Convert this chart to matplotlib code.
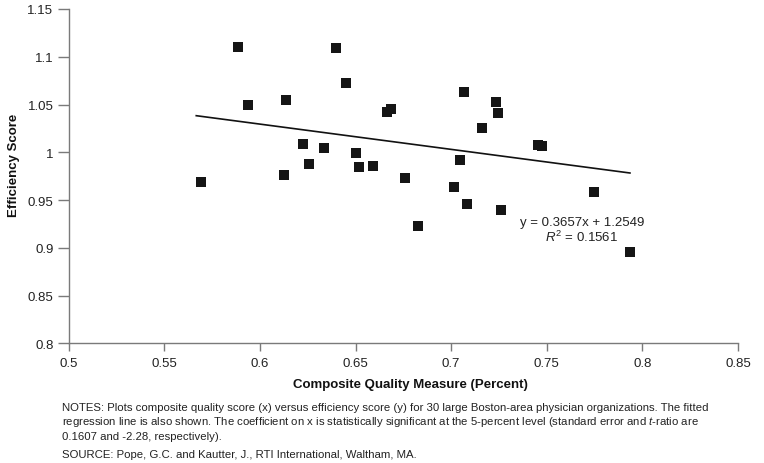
import matplotlib
matplotlib.use("Agg")
import matplotlib.pyplot as plt
import numpy as np

plt.rcParams['font.family'] = ['Liberation Sans', 'DejaVu Sans']
plt.rcParams['mathtext.fontset'] = 'custom'
plt.rcParams['mathtext.rm'] = 'Liberation Sans'
plt.rcParams['mathtext.it'] = 'Liberation Sans:italic'
plt.rcParams['mathtext.bf'] = 'Liberation Sans:bold'

# Data
quality = [0.5690, 0.5885, 0.5936, 0.6138, 0.6124, 0.6227, 0.6257, 0.6337,
           0.6396, 0.6450, 0.6504, 0.6517, 0.6593, 0.6666, 0.6686, 0.6757,
           0.6828, 0.7017, 0.7045, 0.7069, 0.7081, 0.7161, 0.7233, 0.7247,
           0.7259, 0.7456, 0.7474, 0.7749, 0.7935]
efficiency = [0.9692, 1.1099, 1.0498, 1.0550, 0.9765, 1.0086, 0.9880, 1.0041,
              1.1095, 1.0725, 0.9995, 0.9842, 0.9853, 1.0425, 1.0453, 0.9734,
              0.9225, 0.9633, 0.9922, 1.0634, 0.9461, 1.0251, 1.0529, 1.0414,
              0.9398, 1.0076, 1.0062, 0.9587, 0.8959]
fit_x = [0.5667, 0.7935]
fit_y = [1.0383, 0.9783]

x_ticks = [0.5, 0.55, 0.6, 0.65, 0.7, 0.75, 0.8, 0.85]
x_tick_labels = ['0.5', '0.55', '0.6', '0.65', '0.7', '0.75', '0.8', '0.85']
y_ticks = [0.8, 0.85, 0.9, 0.95, 1.0, 1.05, 1.1, 1.15]
y_tick_labels = ['0.8', '0.85', '0.9', '0.95', '1', '1.05', '1.1', '1.15']

fig = plt.figure(figsize=(7.64, 4.64), dpi=100)
ax = fig.add_axes([68.7/764, 1-344.3/464, (738-68.7)/764, (344.3-10)/464])

ax.plot(fit_x, fit_y, color='#111111', lw=1.2, zorder=2)
ax.scatter(quality, efficiency, marker='s', s=44, color='#151515',
           linewidths=0, zorder=3)

ax.set_xlim(0.5, 0.85)
ax.set_ylim(0.8, 1.15)
ax.set_xticks(x_ticks)
ax.set_xticklabels(x_tick_labels)
ax.set_yticks(y_ticks)
ax.set_yticklabels(y_tick_labels)

for s in ['top', 'right']:
    ax.spines[s].set_visible(False)
for s in ['left', 'bottom']:
    ax.spines[s].set_color('#7a7a7a')
    ax.spines[s].set_linewidth(1.0)
ax.tick_params(axis='x', direction='out', length=5.5, width=1.0,
               color='#7a7a7a', labelsize=9.5, pad=4.5, labelcolor='#222222')
ax.tick_params(axis='y', direction='out', length=8, width=1.0,
               color='#7a7a7a', labelsize=9.5, pad=3, labelcolor='#222222')

ax.text(0.7683, 0.9273, 'y = 0.3657x + 1.2549', ha='center', va='center',
        fontsize=9.5, color='#222222')
ax.text(0.7683, 0.9116, r'$\it{R}^{2}$ = 0.1561', ha='center', va='center',
        fontsize=9.5, color='#222222')

fig.text(14/764, 1-165/464, 'Efficiency Score', rotation=90, ha='center',
         va='center', fontsize=9.5, fontweight='bold', color='#111111')
fig.text(410/764, 1-385/464, 'Composite Quality Measure (Percent)',
         ha='center', va='center', fontsize=9.5, fontweight='bold',
         color='#111111')

notes = ["NOTES: Plots composite quality score (x) versus efficiency score (y) for 30 large Boston-area physician organizations. The fitted",
         r"regression line is also shown. The coefficient on x is statistically significant at the 5-percent level (standard error and $\it{t}$-ratio are",
         "0.1607 and -2.28, respectively).",
         "SOURCE: Pope, G.C. and Kautter, J., RTI International, Waltham, MA."]
note_y = [408, 422.5, 437, 455]
for line, yy in zip(notes, note_y):
    fig.text(62/764, 1-yy/464, line, ha='left', va='center', fontsize=8.2,
             color='#222222')

fig.savefig('out.png', dpi=100)
